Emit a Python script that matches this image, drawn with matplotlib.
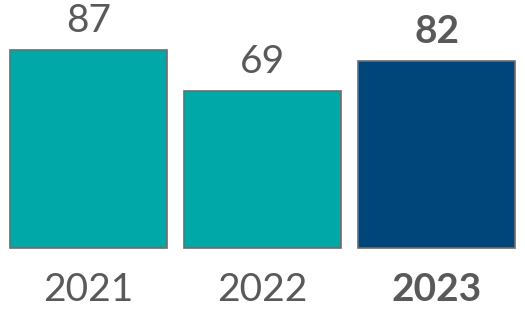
import matplotlib
matplotlib.use('Agg')
import matplotlib.pyplot as plt

# chart data
years = ['2021', '2022', '2023']
values = [87, 69, 82]
colors = ['#00A8A8', '#00A8A8', '#00467A']
bold = [False, False, True]

plt.rcParams['font.family'] = ['Lato', 'DejaVu Sans']

fig = plt.figure(figsize=(5.25, 3.33), dpi=100)
ax = fig.add_axes([0, 0, 1, 1])

x = list(range(len(years)))
ax.bar(x, values, width=0.902, color=colors, edgecolor='#6d6d6d', linewidth=1.2)

for i, v in enumerate(values):
    w = 'bold' if bold[i] else 'normal'
    ax.text(x[i], v + 8, str(v), ha='center', va='baseline', fontsize=28,
            color='#595959', fontweight=w)
    ax.text(x[i], -23.3, years[i], ha='center', va='baseline', fontsize=28,
            color='#595959', fontweight=w)

ax.set_xlim(-0.5086, 2.5086)
ax.set_ylim(-37.35, 108.97)
ax.axis('off')

fig.savefig('out.png', dpi=100)
